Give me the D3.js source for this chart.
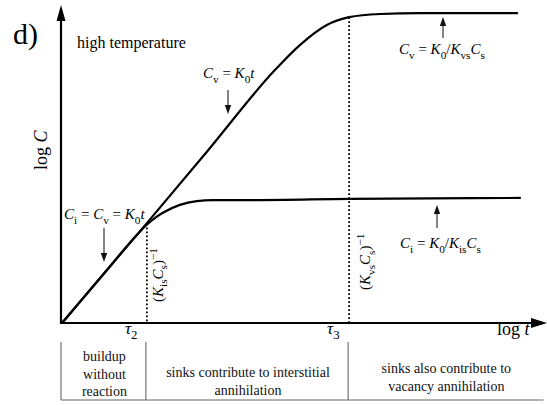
<!DOCTYPE html>
<html><head><meta charset="utf-8">
<script src="https://cdn.jsdelivr.net/npm/d3@7"></script>
<style>body{margin:0;background:#fff}svg{display:block}svg text{font-family:"Liberation Serif","DejaVu Serif",serif}</style>
</head><body><svg id="c" width="547" height="405"></svg>
<script>
// ---- data (log t, log C in arbitrary units 0..100) ----
const cvX = [0, 8, 17.5, 30, 43.9, 49.1, 54.6, 59.2, 65.6, 73.8, 94];
const cvY = [0, 14.5, 31.7, 54.6, 80.3, 88.3, 94.6, 97.1, 98.1, 98.4, 98.4];
const ciX = [0, 8, 15, 17.3, 19.2, 20.8, 24.3, 27.8, 31.1, 38.8, 59.4, 94.6];
const ciY = [0, 14.5, 27.2, 31.0, 33.4, 35.0, 37.5, 38.7, 39.0, 39.0, 39.4, 39.7];
const tauNames = ["2", "3"];
const tauPos = [17.5, 59.2];
const tauCurveY = [30.3, 97.1];
const regions = [
  ["buildup", "without", "reaction"],
  ["sinks contribute to interstitial", "annihilation"],
  ["sinks also contribute to", "vacancy annihilation"]
];

const svg = d3.select("#c");
const x = d3.scaleLinear().domain([0, 100]).range([62, 547]);
const y = d3.scaleLinear().domain([0, 100]).range([323, 8]);

function rich(sel, segs, size) {
  let cur = 0;
  segs.forEach(s => {
    const ts = sel.append("tspan").text(s.t);
    if (s.i) ts.attr("font-style", "italic");
    const shift = s.sub ? size * 0.3 : s.sup ? -size * 0.38 : 0;
    ts.attr("font-size", (s.sub || s.sup) ? size * 0.75 : size);
    ts.attr("dy", shift - cur);
    cur = shift;
  });
}

// curves
const line = d3.line().x(d => x(d[0])).y(d => y(d[1])).curve(d3.curveMonotoneX);
svg.append("path").datum(cvX.map((v, i) => [v, cvY[i]])).attr("d", line)
  .attr("fill", "none").attr("stroke", "#000").attr("stroke-width", 2.2);
svg.append("path").datum(ciX.map((v, i) => [v, ciY[i]])).attr("d", line)
  .attr("fill", "none").attr("stroke", "#000").attr("stroke-width", 2.2);

// dotted tau lines
tauPos.forEach((p, i) => {
  svg.append("line").attr("x1", x(p)).attr("x2", x(p)).attr("y1", y(tauCurveY[i])).attr("y2", y(0))
    .attr("stroke", "#000").attr("stroke-width", 1.8).attr("stroke-dasharray", "1.8,2.2");
});

// axes
svg.append("line").attr("x1", x(0) - 1).attr("x2", x(0) - 1).attr("y1", y(0) + 1).attr("y2", 18)
  .attr("stroke", "#000").attr("stroke-width", 2.2);
svg.append("path").attr("d", `M${x(0)-1},5 L${x(0)-5.5},21 L${x(0)+3.5},21 Z`).attr("fill", "#000");
svg.append("line").attr("x1", x(0) - 2).attr("x2", 535).attr("y1", y(0)).attr("y2", y(0))
  .attr("stroke", "#000").attr("stroke-width", 2.2);
svg.append("path").attr("d", `M547,${y(0)} L531,${y(0)-5} L531,${y(0)+5} Z`).attr("fill", "#000");

// tau labels
tauPos.forEach((p, i) => {
  const t = svg.append("text").attr("x", x(p) - 22).attr("y", 334);
  rich(t, [{t: "τ", i: true}, {t: tauNames[i], sub: true}], 17);
});
// log t
{
  const t = svg.append("text").attr("x", 497).attr("y", 335);
  rich(t, [{t: "log "}, {t: "t", i: true}], 18);
}
// log C
{
  const t = svg.append("text").attr("transform", "translate(47,170) rotate(-90)");
  rich(t, [{t: "log "}, {t: "C", i: true}], 18);
}
// d)
svg.append("text").attr("x", 13).attr("y", 44).attr("font-size", 30).text("d)");
svg.append("text").attr("x", 77).attr("y", 48).attr("font-size", 16).text("high temperature");

// annotations
function arrow(x0, y0, y1) {
  const dir = y1 > y0 ? 1 : -1;
  svg.append("line").attr("x1", x0).attr("x2", x0).attr("y1", y0).attr("y2", y1 - dir * 8)
    .attr("stroke", "#333").attr("stroke-width", 1.2);
  svg.append("path").attr("d", `M${x0},${y1} L${x0-3.2},${y1-dir*9} L${x0+3.2},${y1-dir*9} Z`).attr("fill", "#111");
}
{
  const t = svg.append("text").attr("x", 203).attr("y", 78);
  rich(t, [{t: "C", i: true}, {t: "v", sub: true}, {t: " = "}, {t: "K", i: true}, {t: "0", sub: true}, {t: "t", i: true}], 15);
  arrow(228, 90, 114);
}
{
  const t = svg.append("text").attr("x", 64).attr("y", 219);
  rich(t, [{t: "C", i: true}, {t: "i", sub: true}, {t: " = "}, {t: "C", i: true}, {t: "v", sub: true}, {t: " = "}, {t: "K", i: true}, {t: "0", sub: true}, {t: "t", i: true}], 15);
  arrow(104, 228, 262);
}
{
  const t = svg.append("text").attr("x", 399).attr("y", 54);
  rich(t, [{t: "C", i: true}, {t: "v", sub: true}, {t: " = "}, {t: "K", i: true}, {t: "0", sub: true}, {t: "/"}, {t: "K", i: true}, {t: "vs", sub: true}, {t: "C", i: true}, {t: "s", sub: true}], 15);
  arrow(443, 38, 17);
}
{
  const t = svg.append("text").attr("x", 400).attr("y", 248);
  rich(t, [{t: "C", i: true}, {t: "i", sub: true}, {t: " = "}, {t: "K", i: true}, {t: "0", sub: true}, {t: "/"}, {t: "K", i: true}, {t: "is", sub: true}, {t: "C", i: true}, {t: "s", sub: true}], 15);
  arrow(437, 228, 205);
}
// rotated inverse labels
{
  const t = svg.append("text").attr("transform", `translate(${x(tauPos[0]) + 16},302) rotate(-90)`);
  rich(t, [{t: "("}, {t: "K", i: true}, {t: "is", sub: true}, {t: "C", i: true}, {t: "s", sub: true}, {t: ")"}, {t: "−1", sup: true}], 15);
}
{
  const t = svg.append("text").attr("transform", `translate(${x(tauPos[1]) + 21},290) rotate(-90)`);
  rich(t, [{t: "("}, {t: "K", i: true}, {t: "vs", sub: true}, {t: "C", i: true}, {t: "s", sub: true}, {t: ")"}, {t: "−1", sup: true}], 15);
}

// regions table
const bounds = [0, tauPos[0], tauPos[1], 99.3];
[0, 1, 2].forEach(i => {
  svg.append("line").attr("x1", x(bounds[i]) - 1).attr("x2", x(bounds[i]) - 1).attr("y1", 342).attr("y2", 400)
    .attr("stroke", "#666").attr("stroke-width", 1.1);
});
svg.append("line").attr("x1", x(0) - 1).attr("x2", x(bounds[3])).attr("y1", 400).attr("y2", 400)
  .attr("stroke", "#666").attr("stroke-width", 1.1);
const baseY = [[361, 378.5, 396], [377, 395], [373, 391]];
regions.forEach((lines, i) => {
  const cx = (x(bounds[i]) + x(bounds[i + 1])) / 2;
  lines.forEach((s, j) => {
    svg.append("text").attr("x", cx).attr("y", baseY[i][j]).attr("text-anchor", "middle")
      .attr("font-size", 14).attr("fill", "#111").text(s);
  });
});
</script></body></html>
